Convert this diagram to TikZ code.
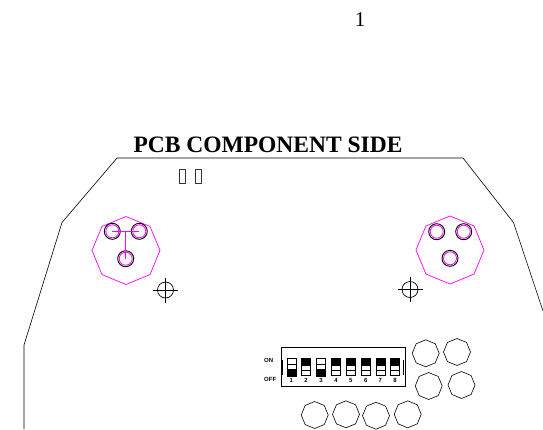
\documentclass[tikz,border=0pt]{standalone}
\usepackage{fontspec}
\setmainfont{Liberation Serif}
\setsansfont{Liberation Sans}
\usetikzlibrary{shapes.geometric}
\definecolor{holderpink}{RGB}{255,0,255}
\tikzset{
  pad/.style={draw,regular polygon,regular polygon sides=8,shape border rotate=22.5,minimum size=27pt,inner sep=0pt,line width=0.6pt},
  holder/.style={draw=holderpink,regular polygon,regular polygon sides=8,shape border rotate=22.5,minimum size=68pt,inner sep=0pt,line width=0.7pt},
  pin/.style={draw=black,circle,minimum size=16pt,inner sep=0pt,line width=0.9pt},
  pinin/.style={draw=holderpink,circle,minimum size=13pt,inner sep=0pt,line width=0.8pt},
  target/.style={draw,circle,minimum size=16pt,inner sep=0pt,line width=0.7pt},
  led/.style={draw=black!80,minimum width=6pt,minimum height=13.5pt,inner sep=0pt,line width=0.6pt},
  sw/.style={draw,minimum width=9pt,inner sep=0pt,line width=0.6pt},
  swon/.style={sw,fill=black},
  tag/.style={font=\sffamily\bfseries\fontsize{6}{6}\selectfont,inner sep=0pt}
}
\begin{document}
\begin{tikzpicture}[x=1pt,y=-1pt]
  \useasboundingbox (0,0) rectangle (543,429);
  \node[inner sep=0pt] (page) at (360,20) {\fontsize{21}{21}\selectfont 1};
  \node[inner sep=0pt] (title) at (268,145) {\fontsize{23.5}{23.5}\selectfont\bfseries PCB COMPONENT SIDE};

  % board edge
  \draw[line width=0.6pt] (24,429) -- (24,345) -- (62,222.5) -- (117,158) -- (463,158) -- (513.5,222.5) -- (543,311);

  % small parts
  \node[led] (ledA) at (182.7,176.3) {};
  \node[led] (ledB) at (198.5,176.3) {};

  % left connector
  \node[holder] (conL) at (126,250.5) {};
  \foreach \n/\x/\y in {a/112.3/231.3,b/139.3/231.3,c/125.7/258.7} {
    \node[pin] (l\n) at (\x,\y) {};
    \node[pinin] (li\n) at (\x,\y) {};
  }
  \draw[holderpink,line width=0.7pt] (la.center) -- (lb.center);
  \draw[holderpink,line width=0.7pt] (125.7,231.3) -- (lc.center);

  % right connector
  \node[holder] (conR) at (450,250) {};
  \foreach \n/\x/\y in {a/436.7/231.7,b/463.7/231.7,c/450/258.3} {
    \node[pin] (r\n) at (\x,\y) {};
    \node[pinin] (ri\n) at (\x,\y) {};
  }

  % fiducials
  \foreach \n/\x/\y in {A/165.5/290,B/410/289.5} {
    \node[target] (fid\n) at (\x,\y) {};
    \draw[line width=0.7pt] (\x-12.5,\y) -- (\x+12.5,\y) (\x,\y-12.5) -- (\x,\y+12.5);
  }

  % dip switch
  \node[draw,minimum width=124pt,minimum height=39.5pt,inner sep=0pt,line width=0.7pt] (dip) at (343,367) {};
  \draw[line width=0.7pt] (282.5,360) -- (282.5,375);
  \draw[line width=0.7pt] (403.5,360) -- (403.5,375);
  \node[tag,anchor=west] (on) at (264,360.5) {ON};
  \node[tag,anchor=west] (off) at (264,379.5) {OFF};
  \foreach \i/\x/\u in {1/291.3/0,2/306/1,3/321/0,4/336/1,5/350.7/1,6/365.7/1,7/380.3/1,8/395/1} {
    \ifnum\u=1
      \node[swon,minimum height=7pt] (up\i) at (\x,361.5) {};
      \node[sw,minimum height=5pt] (mid\i) at (\x,367.5) {};
      \node[sw,minimum height=5pt] (dn\i) at (\x,372.5) {};
    \else
      \node[sw,minimum height=6pt] (up\i) at (\x,361) {};
      \node[sw,minimum height=5pt] (mid\i) at (\x,366.5) {};
      \node[swon,minimum height=7pt] (dn\i) at (\x,372.5) {};
    \fi
    \node[tag] (num\i) at (\x,380.5) {\i};
  }

  % pads
  \foreach \n/\x/\y in {a/425.7/353.3,b/457/352,c/428.7/386,d/461.5/385,e/314.7/415,f/346/414.3,g/376/415.7,h/407.7/414.3} {
    \node[pad] (pad\n) at (\x,\y) {};
  }
\end{tikzpicture}
\end{document}
